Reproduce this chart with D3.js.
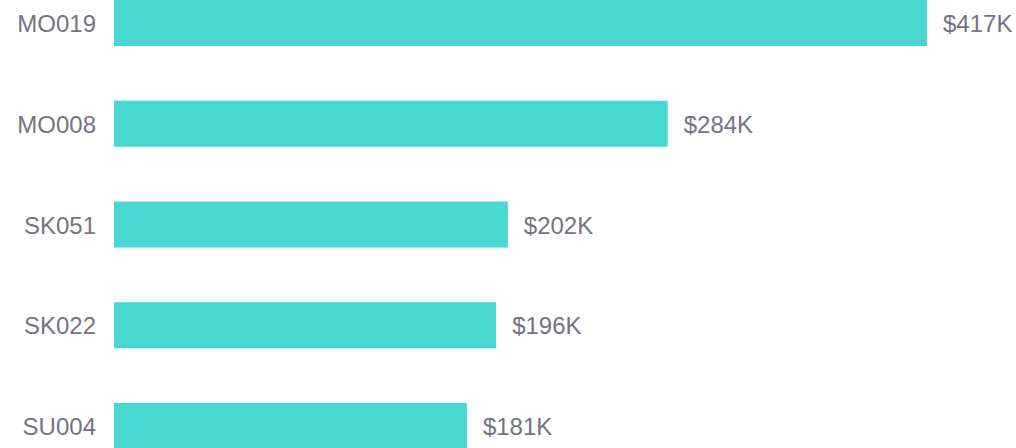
<!DOCTYPE html>
<html>
<head>
<meta charset="utf-8">
<script src="https://cdn.jsdelivr.net/npm/d3@7"></script>
<style>
  html, body { margin: 0; padding: 0; background: #fff; }
  svg { display: block; }
</style>
</head>
<body>
<svg id="chart"></svg>
<script>
var categories = ['MO019', 'MO008', 'SK051', 'SK022', 'SU004'];
var values = [417, 284, 202, 196, 181]; // thousands of dollars

var width = 1016;
var height = 448;
var left = 114;

var svg = d3.select('#chart')
  .attr('width', width)
  .attr('height', height);

// bars are ~46px tall on a ~100.75px step, last one clipped by the frame
var y = d3.scaleBand()
  .domain(categories)
  .range([0, 449])
  .paddingInner(0.5434)
  .paddingOuter(0);

var x = d3.scaleLinear()
  .domain([0, 417])
  .range([left, 927]);

var rows = svg.selectAll('g.row')
  .data(categories)
  .enter().append('g')
  .attr('class', 'row');

rows.append('rect')
  .attr('x', x(0))
  .attr('y', function(d) { return y(d); })
  .attr('width', function(d, i) { return x(values[i]) - x(0); })
  .attr('height', y.bandwidth())
  .attr('fill', '#48d6d0');

rows.append('text')
  .attr('x', left - 18)
  .attr('y', function(d) { return y(d) + y.bandwidth() / 2; })
  .attr('dy', '0.38em')
  .attr('text-anchor', 'end')
  .attr('font-family', 'Liberation Sans, Arial, sans-serif')
  .attr('font-size', 24)
  .attr('fill', '#74747e')
  .text(function(d) { return d; });

rows.append('text')
  .attr('x', function(d, i) { return x(values[i]) + 16; })
  .attr('y', function(d) { return y(d) + y.bandwidth() / 2; })
  .attr('dy', '0.38em')
  .attr('font-family', 'Liberation Sans, Arial, sans-serif')
  .attr('font-size', 24)
  .attr('fill', '#74747e')
  .text(function(d, i) { return '$' + values[i] + 'K'; });
</script>
</body>
</html>
